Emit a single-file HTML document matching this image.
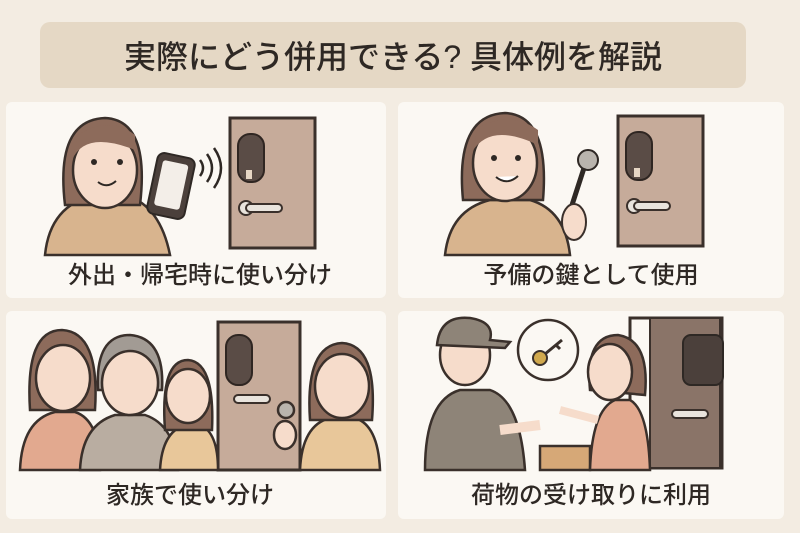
<!DOCTYPE html>
<html><head><meta charset="utf-8"><style>
html,body{margin:0;padding:0;background:#f3ece2;}
svg{display:block}
text{font-family:"Liberation Sans","Noto Sans CJK JP",sans-serif;font-weight:500;fill:#2e2824}
</style></head><body>
<svg width="800" height="533" viewBox="0 0 800 533" xmlns="http://www.w3.org/2000/svg">
<defs>
<g id="door">
 <rect x="0" y="0" width="85" height="130" fill="#c6ab9a" stroke="#3a302b" stroke-width="3"/>
 <rect x="8" y="16" width="26" height="48" rx="12" fill="#5a4c46" stroke="#2f2622" stroke-width="2"/>
 <rect x="16" y="52" width="6" height="9" fill="#e6d6c4"/>
 <circle cx="16" cy="90" r="7" fill="#e9e4dd" stroke="#3a302b" stroke-width="2"/>
 <rect x="16" y="86" width="36" height="8" rx="4" fill="#e9e4dd" stroke="#3a302b" stroke-width="2"/>
</g>
</defs>
<rect x="40" y="22" width="706" height="66" rx="10" fill="#e5d8c5"/>
<text x="393" y="68" font-size="32" text-anchor="middle">実際にどう併用できる? 具体例を解説</text>
<rect x="6" y="102" width="380" height="196" rx="6" fill="#fbf8f3"/>
<rect x="398" y="102" width="386" height="196" rx="6" fill="#fbf8f3"/>
<rect x="6" y="311" width="380" height="208" rx="6" fill="#fbf8f3"/>
<rect x="398" y="311" width="386" height="208" rx="6" fill="#fbf8f3"/>

<path d="M45 255 Q50 205 95 195 L125 195 Q160 205 170 255 Z" fill="#d8b48e" stroke="#3a302b" stroke-width="2.5"/>
<path d="M65 205 Q55 120 105 118 Q150 120 140 205 Z" fill="#8d6b5b" stroke="#3a302b" stroke-width="2.5"/>
<ellipse cx="105" cy="170" rx="32" ry="38" fill="#f6dccb" stroke="#3a302b" stroke-width="2.5"/>
<path d="M72 160 Q85 130 135 150 L135 135 Q110 115 78 135 Z" fill="#8d6b5b"/>
<circle cx="94" cy="162" r="3" fill="#2e2824"/><circle cx="120" cy="162" r="3" fill="#2e2824"/>
<path d="M98 182 Q107 189 116 181" stroke="#2e2824" stroke-width="2" fill="none"/>
<rect x="152" y="155" width="38" height="62" rx="7" fill="#4b403b" stroke="#2e2824" stroke-width="2" transform="rotate(12 171 186)"/>
<rect x="158" y="162" width="26" height="46" rx="3" fill="#f3eee8" transform="rotate(12 171 186)"/>
<path d="M200 160 q6 8 0 16 M207 154 q10 14 0 28 M214 148 q14 20 0 40" stroke="#2e2824" stroke-width="2.5" fill="none"/>
<use href="#door" x="230" y="118"/>
<text x="200" y="283" font-size="24" text-anchor="middle">外出・帰宅時に使い分け</text>

<path d="M445 255 Q450 210 490 200 L530 200 Q565 210 570 255 Z" fill="#d8b48e" stroke="#3a302b" stroke-width="2.5"/>
<path d="M463 200 Q455 115 505 113 Q550 115 543 200 Z" fill="#8d6b5b" stroke="#3a302b" stroke-width="2.5"/>
<ellipse cx="505" cy="163" rx="32" ry="38" fill="#f6dccb" stroke="#3a302b" stroke-width="2.5"/>
<path d="M472 152 Q490 122 538 145 L538 130 Q510 110 478 128 Z" fill="#8d6b5b"/>
<circle cx="494" cy="158" r="3" fill="#2e2824"/><circle cx="518" cy="158" r="3" fill="#2e2824"/>
<path d="M496 177 Q507 186 518 176" stroke="#2e2824" stroke-width="2" fill="#fff"/>
<circle cx="588" cy="160" r="10" fill="#b9b4ad" stroke="#2e2824" stroke-width="2"/>
<path d="M584 168 L572 205" stroke="#2e2824" stroke-width="5"/>
<ellipse cx="574" cy="222" rx="12" ry="18" fill="#f6dccb" stroke="#3a302b" stroke-width="2"/>
<use href="#door" x="618" y="116"/>
<text x="591" y="283" font-size="24" text-anchor="middle">予備の鍵として使用</text>

<rect x="218" y="322" width="82" height="148" fill="#c6ab9a" stroke="#3a302b" stroke-width="3"/>
<rect x="226" y="335" width="26" height="50" rx="12" fill="#5a4c46" stroke="#2f2622" stroke-width="2"/>
<rect x="234" y="395" width="36" height="8" rx="4" fill="#e9e4dd" stroke="#3a302b" stroke-width="2"/>
<g stroke="#3a302b" stroke-width="2.5">
<path d="M20 470 Q22 420 55 412 L75 412 Q100 420 100 470 Z" fill="#e2a98f"/>
<path d="M30 410 Q25 330 62 330 Q100 332 95 410 Z" fill="#8d6b5b"/>
<ellipse cx="63" cy="378" rx="27" ry="33" fill="#f6dccb"/>
<path d="M80 470 Q82 425 115 415 L145 415 Q175 425 178 470 Z" fill="#b9ada1"/>
<path d="M98 390 Q95 335 130 335 Q165 338 162 390 Z" fill="#a29b94"/>
<ellipse cx="130" cy="383" rx="28" ry="32" fill="#f6dccb"/>
<path d="M160 470 Q162 432 185 425 L200 425 Q218 432 218 470 Z" fill="#e8c79a"/>
<path d="M165 430 Q160 360 188 360 Q215 362 212 430 Z" fill="#8d6b5b"/>
<ellipse cx="188" cy="396" rx="22" ry="27" fill="#f6dccb"/>
<path d="M300 470 Q302 425 330 418 L355 418 Q378 425 380 470 Z" fill="#e8c79a"/>
<path d="M310 420 Q305 345 342 343 Q378 345 372 420 Z" fill="#8d6b5b"/>
<ellipse cx="342" cy="386" rx="27" ry="32" fill="#f6dccb"/>
<circle cx="286" cy="410" r="8" fill="#b9b4ad"/>
<ellipse cx="285" cy="435" rx="11" ry="14" fill="#f6dccb"/>
</g>
<text x="190" y="503" font-size="24" text-anchor="middle">家族で使い分け</text>

<rect x="630" y="318" width="92" height="150" fill="#fbf8f3" stroke="#3a302b" stroke-width="3"/>
<rect x="650" y="318" width="70" height="150" fill="#8a7468" stroke="#3a302b" stroke-width="2"/>
<rect x="683" y="335" width="40" height="50" rx="8" fill="#4b403b" stroke="#2e2824" stroke-width="2"/>
<rect x="672" y="410" width="36" height="8" rx="4" fill="#e9e4dd" stroke="#3a302b" stroke-width="2"/>
<g stroke="#3a302b" stroke-width="2.5">
<path d="M425 470 Q425 400 460 390 L490 390 Q520 400 525 470 Z" fill="#8e8478"/>
<ellipse cx="465" cy="355" rx="25" ry="30" fill="#f6dccb"/>
<path d="M437 345 Q440 315 470 318 Q495 322 490 340 L510 342 L505 348 Z" fill="#8e8478"/>
<path d="M500 430 L540 425" stroke-width="10" stroke="#f6dccb"/>
<rect x="540" y="446" width="50" height="24" fill="#d6a877"/>
<path d="M590 470 Q592 410 615 400 L630 400 Q648 410 650 470 Z" fill="#e2a98f"/>
<path d="M590 390 Q585 335 618 335 Q650 340 645 395 Z" fill="#8d6b5b"/>
<ellipse cx="610" cy="372" rx="22" ry="28" fill="#f6dccb"/>
<path d="M560 410 L598 420" stroke-width="8" stroke="#f6dccb"/>
<circle cx="548" cy="350" r="30" fill="#fbf8f3"/>
</g>
<circle cx="540" cy="358" r="7" fill="#d1a94e" stroke="#3a302b" stroke-width="2"/>
<path d="M545 354 L562 340 M556 345 l4 4" stroke="#3a302b" stroke-width="3"/>
<text x="591" y="503" font-size="24" text-anchor="middle">荷物の受け取りに利用</text>
</svg>
</body></html>
